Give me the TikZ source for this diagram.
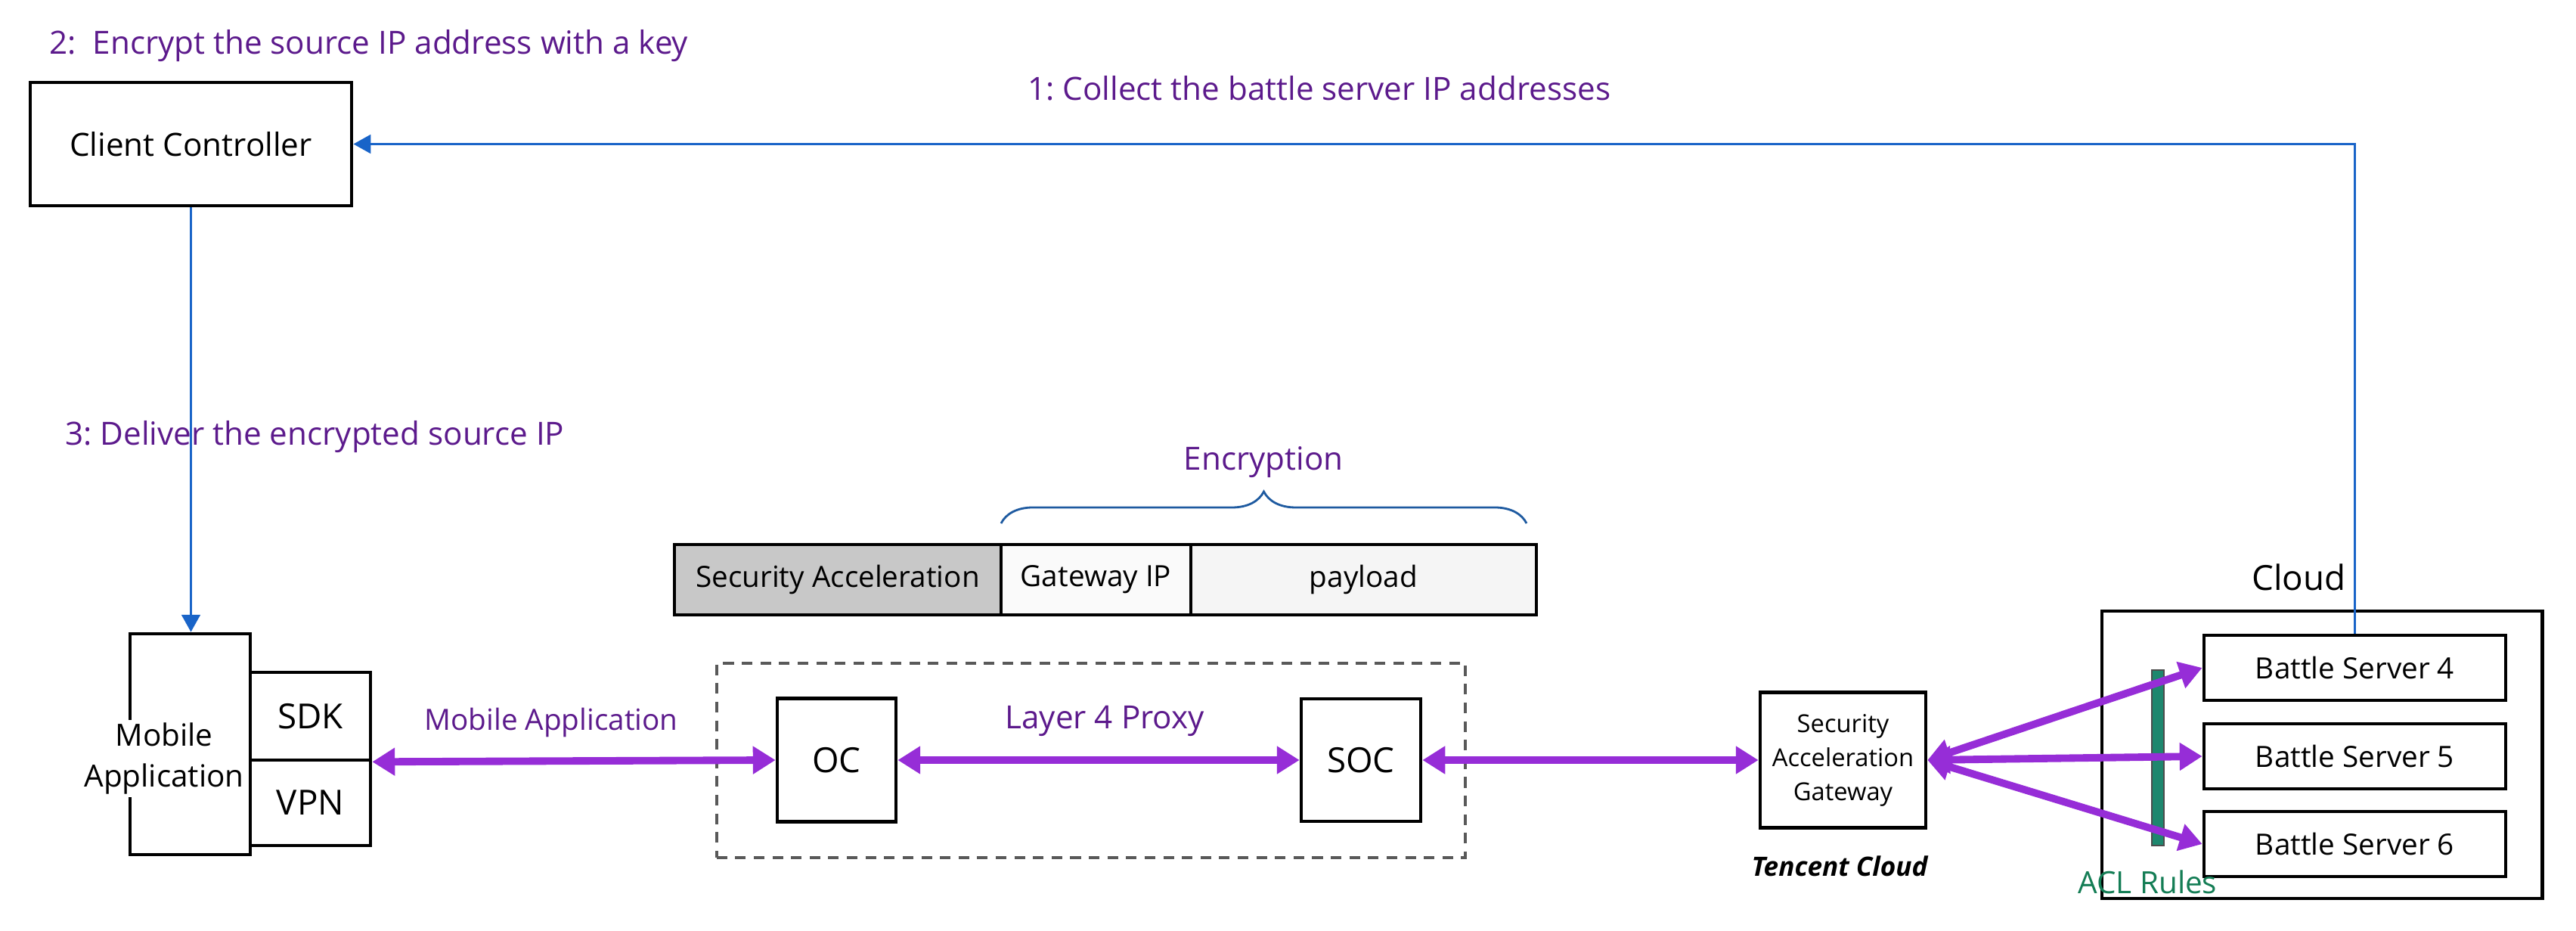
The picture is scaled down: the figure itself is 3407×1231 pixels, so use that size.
\documentclass[tikz,border=0pt]{standalone}
\usepackage{fontspec}
\setmainfont{Open Sans}
\usetikzlibrary{arrows.meta,positioning,decorations.pathreplacing}
\definecolor{stepviolet}{RGB}{92,26,140}
\definecolor{linkviolet}{RGB}{150,45,215}
\definecolor{ctrlblue}{RGB}{25,100,200}
\definecolor{braceblue}{RGB}{30,90,160}
\definecolor{aclgreen}{RGB}{20,125,85}
\definecolor{aclteal}{RGB}{30,135,110}
\definecolor{hdrgray}{RGB}{200,200,200}
\begin{document}
\begin{tikzpicture}[x=0.01cm,y=-0.01cm,
  box/.style={draw,line width=1.3pt,inner sep=0pt,font=\fontsize{11}{13}\selectfont},
  big/.style={font=\fontsize{13}{15}\selectfont},
  lbl/.style={text=stepviolet,anchor=base west,font=\fontsize{12}{14}\selectfont},
  link/.style={linkviolet,line width=2.8pt,{Triangle[length=8.5pt,width=10pt]}-{Triangle[length=8.5pt,width=10pt]}},
  ctrl/.style={ctrlblue,line width=0.9pt,-{Triangle[length=6.5pt,width=7pt]}}]
  \useasboundingbox (0,0) rectangle (3407,1231);
  \node[lbl] (s2) at (53,72) {2:\ \ Encrypt the source IP address with a key};
  \node[lbl] (s1) at (1347,133) {1:\ Collect the battle server IP addresses};
  \node[lbl] (s3) at (74,588) {3:\ Deliver the encrypted source IP};
  \node[box,font=\fontsize{12}{14}\selectfont,minimum width=4.25cm,minimum height=1.63cm] (cc) at (252.5,190.5) {Client Controller};
  % mobile side
  \node[box,minimum width=1.59cm,minimum height=2.92cm] (mob) at (251.5,984) {};
  \node[box,big,minimum width=1.59cm,minimum height=1.16cm] (sdk) at (410.5,947) {SDK};
  \node[box,big,minimum width=1.59cm,minimum height=1.13cm] (vpn) at (410.5,1061.5) {VPN};
  \node[fill=white,align=center,inner sep=1pt,font=\fontsize{11.5}{15.4}\selectfont] (mobtxt) at (217,1003) {Mobile\\Application};
  \node[lbl,font=\fontsize{11}{13}\selectfont] (malbl) at (549,965) {Mobile Application};
  % packet
  \node[box,fill=hdrgray,minimum width=4.32cm,minimum height=0.93cm] (sa) at (1108,766.5) {Security Acceleration};
  \node[box,fill=gray!4,minimum width=2.51cm,minimum height=0.93cm] (gip) at (1449.5,766.5) {Gateway IP};
  \node[box,fill=gray!8,minimum width=4.57cm,minimum height=0.93cm] (pay) at (1803.5,766.5) {payload};
  \draw[braceblue,line width=0.8pt,decorate,decoration={brace,amplitude=0.42cm}] (1324,692) -- (2019,692);
  \node[lbl,anchor=base] (enc) at (1671,621) {Encryption};
  % proxy
  \node[draw=black!65,line width=1.1pt,dash pattern=on 4pt off 3pt,minimum width=9.9cm,minimum height=2.57cm] (proxy) at (1443,1005.5) {};
  \node[box,big,minimum width=1.57cm,minimum height=1.63cm] (oc) at (1106.5,1005) {OC};
  \node[box,big,minimum width=1.58cm,minimum height=1.62cm] (soc) at (1800,1005) {SOC};
  \node[lbl] (l4) at (1317,963) {Layer 4 Proxy};
  % gateway
  \node[box,align=center,font=\fontsize{9.3}{12.8}\selectfont,minimum width=2.19cm,minimum height=1.79cm] (gw) at (2437.5,1005) {Security\\Acceleration\\Gateway};
  \node[font=\fontsize{10}{12}\selectfont\bfseries\itshape,anchor=base] (tc) at (2433,1158) {Tencent Cloud};
  % cloud
  \node[box,minimum width=5.82cm,minimum height=3.8cm] (cloud) at (3071,998) {};
  \node[anchor=base west,font=\fontsize{13}{15}\selectfont] (cloudlbl) at (2966,780) {Cloud};
  \foreach \n/\y in {4/883,5/1000,6/1116}
    \node[box,minimum width=3.99cm,minimum height=0.86cm] (bs\n) at (3114.5,\y) {Battle Server \n};
  \node[draw=black!70,fill=aclteal,line width=0.8pt,inner sep=0pt,minimum width=0.16cm,minimum height=2.32cm] (acl) at (2854,1002) {};
  \node[anchor=base west,text=aclgreen,font=\fontsize{11.5}{13}\selectfont] (acllbl) at (2736,1181) {ACL Rules};
  % connectors
  \draw[ctrl] (bs4.north) |- (cc.east);
  \draw[ctrl] (cc.south) -- (cc.south |- mob.north);
  \draw[link] (sdk.south east) -- (oc.west);
  \draw[link] (oc.east) -- (soc.west);
  \draw[link] (soc.east) -- (gw.west);
  \foreach \n in {4,5,6}
    \draw[link] (gw.east) -- (bs\n.west);
\end{tikzpicture}
\end{document}
